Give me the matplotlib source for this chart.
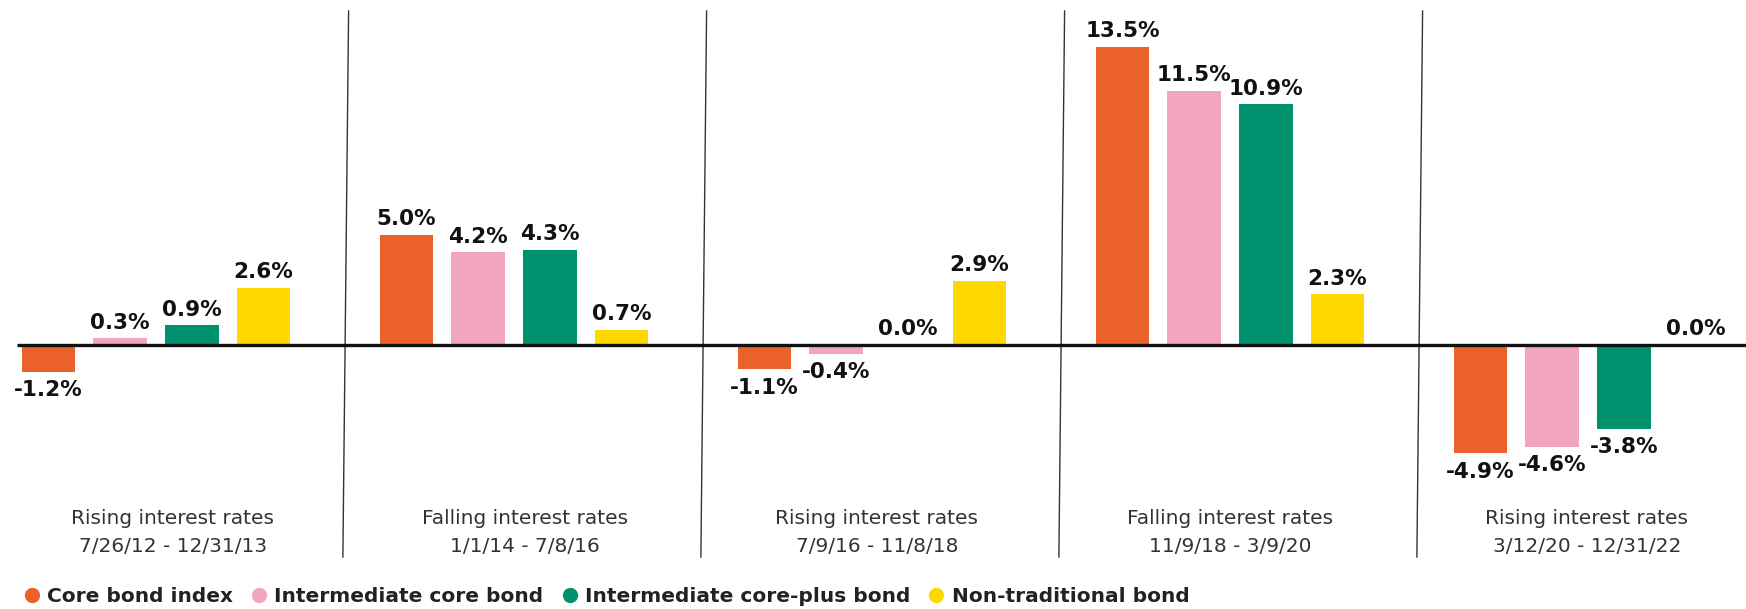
import matplotlib
matplotlib.use("Agg")
import matplotlib.pyplot as plt
from matplotlib.lines import Line2D

# ---- data ----
periods = ["Rising interest rates", "Falling interest rates", "Rising interest rates",
           "Falling interest rates", "Rising interest rates"]
dates = ["7/26/12 - 12/31/13", "1/1/14 - 7/8/16", "7/9/16 - 11/8/18",
         "11/9/18 - 3/9/20", "3/12/20 - 12/31/22"]
series = ["Core bond index", "Intermediate core bond",
          "Intermediate core-plus bond", "Non-traditional bond"]
core_bond_index = [-1.2, 5.0, -1.1, 13.5, -4.9]
intermediate_core = [0.3, 4.2, -0.4, 11.5, -4.6]
intermediate_core_plus = [0.9, 4.3, 0.04, 10.9, -3.8]
non_traditional = [2.6, 0.7, 2.9, 2.3, 0.0]
values = [core_bond_index, intermediate_core, intermediate_core_plus, non_traditional]
colors = ["#EA612C", "#F2A6BD", "#00926E", "#FFD800"]

# ---- layout ----
W, H = 1746, 609
fig = plt.figure(figsize=(W / 100, H / 100), dpi=100)
ax = fig.add_axes([0, 0, 1, 1])
ax.axis("off")
gpx = 358.0            # group spacing in px
g0 = 156.0             # first group centre px
ax.set_xlim(-g0 / gpx, (W - g0) / gpx)
ppp = 22.1             # px per percent
base_px = 264.0        # baseline px from bottom
ax.set_ylim(-base_px / ppp, (H - base_px) / ppp)

FONT = "DejaVu Sans"
bw = 0.15
step = 0.2
for i, (vals, col) in enumerate(zip(values, colors)):
    xs = [g + (i - 1.5) * step for g in range(len(vals))]
    ax.bar(xs, vals, width=bw, color=col, zorder=2)
    for x, v in zip(xs, vals):
        if v >= 0:
            ax.annotate(f"{v:.1f}%", (x, v), xytext=(0, 4), textcoords="offset points",
                        ha="center", va="bottom", fontsize=15.5, fontweight="bold",
                        family=FONT, color="#111111")
        else:
            ax.annotate(f"{v:.1f}%", (x, v), xytext=(0, -6), textcoords="offset points",
                        ha="center", va="top", fontsize=15.5, fontweight="bold",
                        family=FONT, color="#111111")

# baseline
ax.plot([17 / gpx - g0 / gpx, (W - g0) / gpx], [0, 0], color="#111111", lw=2.4, zorder=3,
        solid_capstyle="butt")

# separators (slightly tilted)
for k in range(4):
    ax.plot([k + 0.538, k + 0.522], [(H - 11 - base_px) / ppp, (52 - base_px) / ppp],
            color="#333333", lw=1.0, zorder=1)

# group labels
label_px = [173, 525, 877, 1230, 1587]
for lx, p, d in zip(label_px, periods, dates):
    x = (lx - g0) / gpx
    ax.text(x, (91 - base_px) / ppp, p, ha="center", va="center", fontsize=14.5,
            family=FONT, color="#333333")
    ax.text(x, (63 - base_px) / ppp, d, ha="center", va="center", fontsize=14.5,
            family=FONT, color="#333333")

# legend
handles = [Line2D([], [], marker="o", ls="none", markersize=11, color=c,
                  markeredgewidth=0) for c in colors]
leg = fig.legend(handles, series, loc="lower left", bbox_to_anchor=(0.008, -0.012),
                 ncol=4, frameon=False, handlelength=0.8, handletextpad=0.35,
                 columnspacing=0.9, borderpad=0.0,
                 prop={"family": FONT, "weight": "bold", "size": 14.5})
for t in leg.get_texts():
    t.set_color("#222222")

fig.savefig("out.png", dpi=100)
